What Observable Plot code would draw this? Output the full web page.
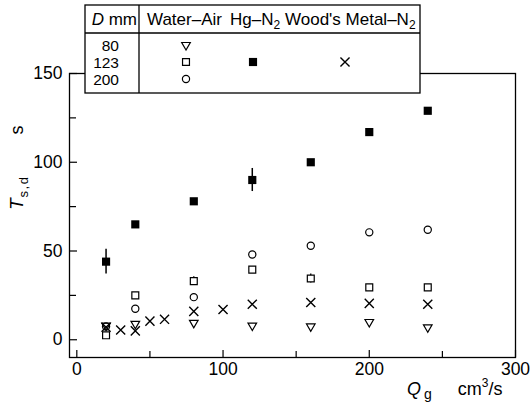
<!DOCTYPE html>
<html><head><meta charset="utf-8">
<script src="https://cdn.jsdelivr.net/npm/d3@7"></script>
<script src="https://cdn.jsdelivr.net/npm/@observablehq/plot@0.6"></script>
<style>
body{margin:0;background:#fff;}
#chart{position:relative;width:531px;height:403px;}
svg{font-family:"Liberation Sans",Arial,Helvetica,sans-serif;}
</style></head><body><div id="chart"></div>
<script>
// tick values
const xTicks = [0, 100, 200, 300];
const xMinor = [50, 150, 250];
const yTicks = [0, 50, 100, 150];
const yMinor = [25, 75, 125];

// Hg–N2, D = 123 mm (filled squares)
const qHg = [20, 40, 80, 120, 160, 200, 240];
const tHg = [44, 65, 78, 90, 100, 117, 129];
const errHg = [7, 0, 0, 6.5, 0, 0, 0];

// Water–Air
const qWA = [20, 40, 80, 120, 160, 200, 240];
const tWA80 = [8, 9, 9.5, 8, 7.5, 10, 7];
const tWA123 = [2.5, 25, 33, 39.5, 34.5, 29.5, 29.5];
const errWA123 = [0, 0, 2.5, 0, 2.5, 0, 0];
const tWA200 = [7.5, 17.5, 24, 48, 53, 60.5, 62];

// Wood's Metal–N2, D = 123 mm
const qWM = [20, 30, 40, 50, 60, 80, 100, 120, 160, 200, 240];
const tWM = [7, 5.5, 5, 10.5, 11.5, 16, 17, 20, 21, 20.5, 20];

// legend labels
const diameters = ["80", "123", "200"];
const fluids = ["Water–Air", "Hg–N", "Wood's Metal–N"];

const hg = qHg.map((q, i) => ({q, t: tHg[i], e: errHg[i]}));
const wa80 = qWA.map((q, i) => ({q, t: tWA80[i]}));
const wa123 = qWA.map((q, i) => ({q, t: tWA123[i], e: errWA123[i]}));
const wa200 = qWA.map((q, i) => ({q, t: tWA200[i]}));
const wm = qWM.map((q, i) => ({q, t: tWM[i]}));

const sw = 1.2;
const plot = Plot.plot({
  width: 531, height: 403,
  marginLeft: 69, marginRight: 16, marginTop: 73, marginBottom: 46,
  style: {fontSize: "17px", color: "black", background: "white"},
  x: {domain: [-5, 300]},
  y: {domain: [-10, 150]},
  marks: [
    Plot.frame({stroke: "black", strokeWidth: 1.3}),
    Plot.axisX(xTicks, {tickSize: 0, tickPadding: 5, label: null, fontSize: 17.5}),
    Plot.axisX(xTicks, {tickSize: -7, tickFormat: () => "", label: null, strokeWidth: sw}),
    Plot.axisX(xMinor, {tickSize: -6, tickFormat: () => "", label: null, strokeWidth: sw}),
    Plot.axisY(yTicks, {tickSize: 0, tickPadding: 7, label: null, fontSize: 17.5}),
    Plot.axisY(yTicks, {tickSize: -8, tickFormat: () => "", label: null, strokeWidth: sw}),
    Plot.axisY(yMinor, {tickSize: -7, tickFormat: () => "", label: null, strokeWidth: sw}),
    Plot.ruleX(hg.filter(d => d.e), {x: "q", y1: d => d.t - d.e, y2: d => d.t + d.e, stroke: "black", strokeWidth: 1.5}),
    Plot.ruleX(wa123.filter(d => d.e), {x: "q", y1: d => d.t - d.e, y2: d => d.t + d.e, stroke: "black", strokeWidth: 1.3}),
    Plot.dot(wa200, {x: "q", y: "t", symbol: "circle", r: 3.6, stroke: "black", fill: "white", strokeWidth: sw}),
    Plot.dot(wa123, {x: "q", y: "t", symbol: "square", r: 3.9, stroke: "black", fill: "white", strokeWidth: sw}),
    Plot.dot(wa80, {x: "q", y: "t", symbol: "triangle", r: 3.2, rotate: 180, stroke: "black", fill: "none", strokeWidth: sw}),
    Plot.dot(wm, {x: "q", y: "t", symbol: "times", r: 4.2, stroke: "black", strokeWidth: 1.4}),
    Plot.dot(hg, {x: "q", y: "t", symbol: "square", r: 4.6, fill: "black", stroke: "none"})
  ]
});
document.getElementById("chart").appendChild(plot);

const svg = d3.select(plot);
svg.selectAll("text").attr("fill", "black");

// y label
const yl = svg.append("text").attr("transform", "translate(23,210) rotate(-90)")
  .attr("text-anchor", "start").attr("font-size", 19).attr("fill", "black");
yl.append("tspan").attr("font-style", "italic").text("T");
yl.append("tspan").attr("font-size", 13).attr("dy", 5).attr("dx", 1).attr("letter-spacing", 1.5).text("s,d");
yl.append("tspan").attr("dy", -5).attr("dx", 41).attr("font-size", 18).text("s");

// x label
const xl = svg.append("text").attr("x", 407).attr("y", 395).attr("text-anchor", "start")
  .attr("font-size", 18).attr("fill", "black");
xl.append("tspan").attr("font-style", "italic").text("Q");
xl.append("tspan").attr("font-size", 14).attr("dy", 4).attr("dx", 3).text("g");
xl.append("tspan").attr("dy", -4).attr("dx", 26).text("cm");
xl.append("tspan").attr("font-size", 12).attr("dy", -8).text("3");
xl.append("tspan").attr("dy", 8).text("/s");

// legend table
const lg = svg.append("g").attr("text-anchor", "start");
lg.append("rect").attr("x", 85).attr("y", 5).attr("width", 335).attr("height", 88)
  .attr("fill", "white").attr("stroke", "black").attr("stroke-width", 1.3);
lg.append("line").attr("x1", 85).attr("x2", 420).attr("y1", 33).attr("y2", 33).attr("stroke", "black").attr("stroke-width", 1.3);
lg.append("line").attr("x1", 139).attr("x2", 139).attr("y1", 5).attr("y2", 93).attr("stroke", "black").attr("stroke-width", 1.3);
const hd = lg.append("text").attr("x", 137).attr("y", 25).attr("text-anchor", "end").attr("font-size", 17).attr("fill", "black");
hd.append("tspan").attr("font-style", "italic").text("D");
hd.append("tspan").text(" mm");
const fx = [147, 230, 285];
fluids.forEach((f, i) => {
  const t = lg.append("text").attr("x", fx[i]).attr("y", 25).attr("text-anchor", "start")
    .attr("font-size", 17).attr("fill", "black");
  t.append("tspan").text(f);
  if (i > 0) t.append("tspan").attr("font-size", 12).attr("dy", 4).text("2");
});
diameters.forEach((d, i) => {
  lg.append("text").attr("x", 119).attr("y", 51 + 17 * i).attr("text-anchor", "end")
    .attr("font-size", 15.5).attr("fill", "black").text(d);
});
const sym = (type, r) => d3.symbol(type, Math.PI * r * r)();
lg.append("path").attr("d", sym(d3.symbolTriangle, 3.2)).attr("transform", "translate(186,45) rotate(180)")
  .attr("fill", "none").attr("stroke", "black").attr("stroke-width", sw);
lg.append("path").attr("d", sym(d3.symbolSquare, 3.9)).attr("transform", "translate(186,62)")
  .attr("fill", "white").attr("stroke", "black").attr("stroke-width", sw);
lg.append("path").attr("d", sym(d3.symbolCircle, 3.6)).attr("transform", "translate(186,79)")
  .attr("fill", "white").attr("stroke", "black").attr("stroke-width", sw);
lg.append("path").attr("d", sym(d3.symbolSquare, 4.6)).attr("transform", "translate(253,62)")
  .attr("fill", "black");
lg.append("path").attr("d", sym(d3.symbolTimes, 4.2)).attr("transform", "translate(345,62)")
  .attr("fill", "none").attr("stroke", "black").attr("stroke-width", 1.4);
</script></body></html>
